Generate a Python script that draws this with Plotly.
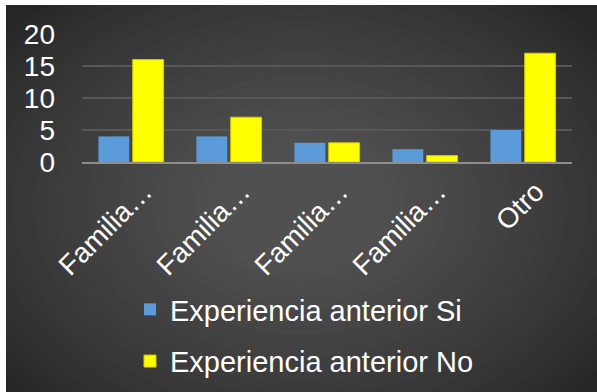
import plotly.graph_objects as go

categories = ["Familia…", "Familia…", "Familia…", "Familia…", "Otro"]
series_names = ["Experiencia anterior Si", "Experiencia anterior No"]
si_values = [4, 4, 3, 2, 5]
no_values = [16, 7, 3, 1, 17]
y_ticks = [0, 5, 10, 15, 20]

W, H = 597, 392
ML, MR, MT, MB = 82, 25, 34, 230
PW, PH = W - ML - MR, H - MT - MB


def px_x(px):
    return (px - ML) / PW


def px_y(py):
    return (H - MB - py) / PH


def mix(c1, c2, t):
    a = [int(c1[i:i + 2], 16) for i in (1, 3, 5)]
    b = [int(c2[i:i + 2], 16) for i in (1, 3, 5)]
    return "#" + "".join(f"{round(a[k] + (b[k] - a[k]) * t):02x}" for k in range(3))


shapes = [dict(type="rect", xref="paper", yref="paper", layer="below",
               x0=px_x(6), x1=px_x(W), y0=px_y(5), y1=px_y(H),
               fillcolor="#262626", line=dict(width=0))]
cx, cy = 300, 205
n = 36
for i in range(n):
    t = i / (n - 1)
    rx = 380 * (1 - t) + 6
    ry = rx * 0.72
    col = mix("#262626", "#505050", min(1.0, t * 1.25) ** 0.8)
    shapes.append(dict(type="circle", xref="paper", yref="paper", layer="below",
                       x0=px_x(cx - rx), x1=px_x(cx + rx),
                       y0=px_y(cy + ry), y1=px_y(cy - ry),
                       fillcolor=col, line=dict(width=0)))
shapes.append(dict(type="rect", xref="paper", yref="paper", layer="below",
                   x0=px_x(0), x1=px_x(W), y0=px_y(5), y1=px_y(0),
                   fillcolor="#ffffff", line=dict(width=0)))
shapes.append(dict(type="rect", xref="paper", yref="paper", layer="below",
                   x0=px_x(0), x1=px_x(6), y0=px_y(H), y1=px_y(0),
                   fillcolor="#ffffff", line=dict(width=0)))

x = list(range(len(categories)))
fig = go.Figure()
fig.add_trace(go.Bar(x=x, y=si_values, name=series_names[0],
                     marker=dict(color="#5b9bd9", line=dict(color="#5b9bd9", width=0)),
                     legendgroup="a"))
fig.add_trace(go.Bar(x=x, y=no_values, name=series_names[1],
                     marker=dict(color="#ffff00", line=dict(color="#d6c800", width=1)),
                     legendgroup="b"))

fig.update_layout(
    width=W, height=H,
    margin=dict(l=ML, r=MR, t=MT, b=MB, autoexpand=False),
    paper_bgcolor="#262626",
    plot_bgcolor="rgba(0,0,0,0)",
    barmode="group", bargap=0.3, bargroupgap=0.1,
    font=dict(family="Liberation Sans, Arial, sans-serif", color="#ffffff"),
    shapes=shapes,
    xaxis=dict(tickmode="array", tickvals=x, ticktext=categories, tickangle=-45,
               tickfont=dict(size=28, color="#ffffff"), range=[-0.5, len(categories) - 0.5],
               showgrid=False, showline=True, linecolor="#8e8e8e", linewidth=2,
               ticks="", zeroline=False, automargin=False, ticklabelshift=13),
    yaxis=dict(range=[0, 20], tickmode="array", tickvals=y_ticks,
               tickfont=dict(size=28, color="#ffffff"), showgrid=True,
               gridcolor="#575757", gridwidth=1.5, zeroline=False, showline=False,
               ticks="", ticklabelstandoff=26, automargin=False),
    legend=dict(orientation="v", x=px_x(130), xanchor="left",
                y=px_y(284), yanchor="top", traceorder="grouped",
                tracegroupgap=11, font=dict(size=29, color="#ffffff"),
                bgcolor="rgba(0,0,0,0)"),
    showlegend=True,
)

fig.write_html(
    "out.html",
    post_script="document.documentElement.style.overflow='hidden';"
                "document.body.style.overflow='hidden';document.body.style.margin='0';",
)
